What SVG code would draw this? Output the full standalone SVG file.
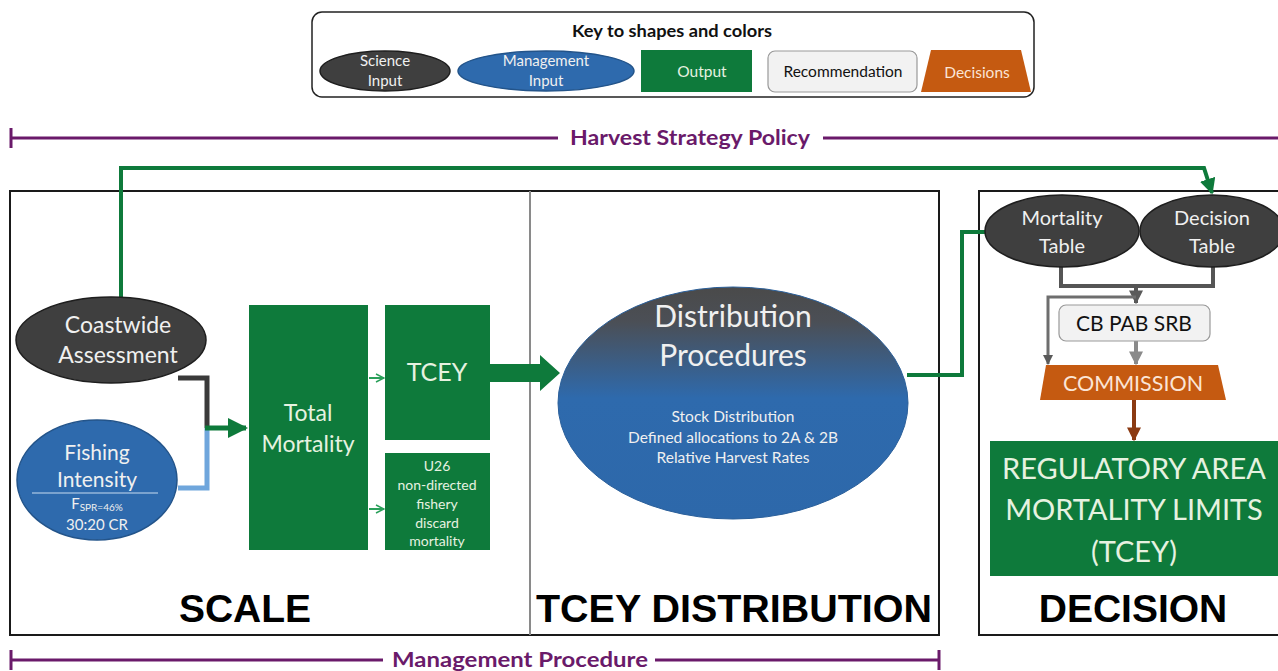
<svg xmlns="http://www.w3.org/2000/svg" width="1278" height="671" viewBox="0 0 1278 671">
  <style>
    .t { font-family: Lato, "Open Sans", "Liberation Sans", sans-serif; text-anchor: middle; }
    .light { fill: #f0f0f0; }
    .pale { fill: #e6f2e0; }
    .sci { fill: #3f3f3f; stroke: #1e1e1e; stroke-width: 1.5; }
    .mgmt { fill: #2e6aad; stroke: #23548a; stroke-width: 1.5; }
    .out { fill: #0e7a3b; }
    .purple { stroke: #6a1a6a; stroke-width: 3; fill: none; }
    .ptext { fill: #6a1a6a; font-weight: bold; font-size: 21px; }
    .sect { font-family: "Liberation Sans", Arial, sans-serif; font-weight: bold; font-size: 39px; text-anchor: middle; fill: #000; }
    .frame { fill: none; stroke: #1a1a1a; stroke-width: 2; }
    .gline { fill: none; stroke: #0e7a3b; stroke-width: 4; }
  </style>
  <defs>
    <linearGradient id="distGrad" x1="0" y1="0" x2="0" y2="1">
      <stop offset="0" stop-color="#4a4a4a"/>
      <stop offset="0.15" stop-color="#4b4f56"/>
      <stop offset="0.48" stop-color="#2e6aad"/>
      <stop offset="1" stop-color="#2d68aa"/>
    </linearGradient>
    <marker id="gArrow" viewBox="0 0 10 10" refX="9" refY="5" markerWidth="4" markerHeight="4" orient="auto" markerUnits="strokeWidth">
      <path d="M0,0 L10,5 L0,10 z" fill="#0e7a3b"/>
    </marker>
    <marker id="gOpen" viewBox="0 0 10 10" refX="9" refY="5" markerWidth="5" markerHeight="5" orient="auto" markerUnits="strokeWidth">
      <path d="M1,1 L9,5 L1,9" fill="none" stroke="#2aa05a" stroke-width="1.5"/>
    </marker>
    <marker id="dArrow" viewBox="0 0 10 10" refX="9" refY="5" markerWidth="3.5" markerHeight="3.5" orient="auto" markerUnits="strokeWidth">
      <path d="M0,0 L10,5 L0,10 z" fill="#5a5a5a"/>
    </marker>
    <marker id="lArrow" viewBox="0 0 10 10" refX="9" refY="5" markerWidth="3.5" markerHeight="3.5" orient="auto" markerUnits="strokeWidth">
      <path d="M0,0 L10,5 L0,10 z" fill="#8a8a8a"/>
    </marker>
    <marker id="bArrow" viewBox="0 0 10 10" refX="9" refY="5" markerWidth="3.5" markerHeight="3.5" orient="auto" markerUnits="strokeWidth">
      <path d="M0,0 L10,5 L0,10 z" fill="#8b3a12"/>
    </marker>
  </defs>

  <rect width="1278" height="671" fill="#ffffff"/>

  <!-- Legend -->
  <g id="legend">
    <rect x="312" y="12" width="722" height="85" rx="10" fill="#fff" stroke="#222" stroke-width="1.5"/>
    <text class="t" x="672" y="37" font-size="17.5" font-weight="bold" fill="#111" textLength="200" lengthAdjust="spacingAndGlyphs">Key to shapes and colors</text>
    <ellipse class="sci" cx="385" cy="71" rx="65" ry="20"/>
    <text class="t light" x="385" y="66" font-size="15">Science</text>
    <text class="t light" x="385" y="86" font-size="15">Input</text>
    <ellipse class="mgmt" cx="546" cy="71" rx="88" ry="20"/>
    <text class="t light" x="546" y="66" font-size="15">Management</text>
    <text class="t light" x="546" y="86" font-size="15">Input</text>
    <rect class="out" x="641" y="50" width="111" height="42"/>
    <text class="t pale" x="702" y="77" font-size="15.5">Output</text>
    <rect x="768" y="51" width="149" height="41" rx="7" fill="#f2f2f2" stroke="#999" stroke-width="1.2"/>
    <text class="t" x="843" y="77" font-size="15.5" fill="#111">Recommendation</text>
    <polygon points="931,50 1021,50 1031,92 921,92" fill="#c55a11"/>
    <text class="t" x="977" y="78" font-size="15.5" fill="#fbe5d6">Decisions</text>
  </g>

  <!-- Policy span bars -->
  <g id="harvest-strategy-policy">
    <line class="purple" x1="11" y1="138" x2="558" y2="138"/>
    <line class="purple" x1="11" y1="128" x2="11" y2="148"/>
    <line class="purple" x1="823" y1="138" x2="1278" y2="138"/>
    <text class="t ptext" x="690" y="145" textLength="240" lengthAdjust="spacingAndGlyphs">Harvest Strategy Policy</text>
  </g>
  <g id="management-procedure">
    <line class="purple" x1="11" y1="660" x2="383" y2="660"/>
    <line class="purple" x1="655" y1="660" x2="939" y2="660"/>
    <line class="purple" x1="11" y1="650" x2="11" y2="670"/>
    <line class="purple" x1="939" y1="650" x2="939" y2="670"/>
    <text class="t ptext" x="520" y="667" textLength="256" lengthAdjust="spacingAndGlyphs">Management Procedure</text>
  </g>

  <!-- Section frames -->
  <g id="frames">
    <rect class="frame" x="10" y="191" width="929" height="444"/>
    <line x1="530" y1="191" x2="530" y2="635" stroke="#8a8a8a" stroke-width="2"/>
    <rect class="frame" x="979" y="191" width="310" height="444"/>
    <text class="sect" x="245" y="622">SCALE</text>
    <text class="sect" x="734" y="622" textLength="396" lengthAdjust="spacingAndGlyphs">TCEY DISTRIBUTION</text>
    <text class="sect" x="1133" y="622">DECISION</text>
  </g>

  <!-- Connectors -->
  <g id="connectors">
    <polyline class="gline" points="121,298 121,168 1204,168 1212,193" marker-end="url(#gArrow)"/>
    <polyline fill="none" stroke="#3a3a3a" stroke-width="5" points="178,378 207,378 207,428"/>
    <polyline fill="none" stroke="#6fa6dc" stroke-width="5" points="178,488 207,488 207,428"/>
    <line stroke="#0e7a3b" stroke-width="5" x1="205" y1="428" x2="246" y2="428" marker-end="url(#gArrow)"/>
    <line stroke="#2aa05a" stroke-width="2" x1="369" y1="378" x2="384" y2="378" marker-end="url(#gOpen)"/>
    <line stroke="#2aa05a" stroke-width="2" x1="369" y1="509" x2="384" y2="509" marker-end="url(#gOpen)"/>
    <polygon points="490,364 540,364 540,355 560,373 540,391 540,382 490,382" fill="#0e7a3b"/>
    <polyline class="gline" stroke-width="5" points="907,375 962,375 962,232 988,232"/>
    <polyline fill="none" stroke="#555" stroke-width="4" points="1061,266 1061,286 1213,286 1213,266"/>
    <line stroke="#555" stroke-width="4" x1="1136" y1="286" x2="1136" y2="303" marker-end="url(#dArrow)"/>
    <polyline fill="none" stroke="#6e6e6e" stroke-width="3" points="1136,297 1048,297 1048,364" marker-end="url(#dArrow)"/>
    <line stroke="#8a8a8a" stroke-width="4" x1="1136" y1="341" x2="1136" y2="364" marker-end="url(#lArrow)"/>
    <line stroke="#8b3a12" stroke-width="4" x1="1134" y1="400" x2="1134" y2="440" marker-end="url(#bArrow)"/>
  </g>

  <!-- Nodes -->
  <g id="coastwide-assessment">
    <ellipse class="sci" cx="111" cy="340" rx="95" ry="43"/>
    <text class="t light" x="118" y="333" font-size="23">Coastwide</text>
    <text class="t light" x="118" y="363" font-size="23">Assessment</text>
  </g>
  <g id="fishing-intensity">
    <ellipse class="mgmt" cx="97" cy="480" rx="80" ry="60"/>
    <text class="t light" x="97" y="460" font-size="21">Fishing</text>
    <text class="t light" x="97" y="487" font-size="21">Intensity</text>
    <line x1="32" y1="493" x2="158" y2="493" stroke="#c8dcf0" stroke-width="1"/>
    <text class="t light" x="97" y="509" font-size="15">F<tspan font-size="10" dy="2">SPR=46%</tspan></text>
    <text class="t light" x="97" y="530" font-size="15">30:20 CR</text>
  </g>
  <g id="total-mortality">
    <rect class="out" x="249" y="305" width="119" height="245"/>
    <text class="t pale" x="308" y="421" font-size="23">Total</text>
    <text class="t pale" x="308" y="452" font-size="23">Mortality</text>
  </g>
  <g id="tcey">
    <rect class="out" x="385" y="305" width="105" height="135"/>
    <text class="t pale" x="437" y="381" font-size="25">TCEY</text>
  </g>
  <g id="u26-discard">
    <rect class="out" x="385" y="453" width="105" height="97"/>
    <text class="t pale" x="437" y="471" font-size="14">U26</text>
    <text class="t pale" x="437" y="490" font-size="14">non-directed</text>
    <text class="t pale" x="437" y="509" font-size="14">fishery</text>
    <text class="t pale" x="437" y="528" font-size="14">discard</text>
    <text class="t pale" x="437" y="546" font-size="14">mortality</text>
  </g>
  <g id="distribution-procedures">
    <ellipse cx="733" cy="403" rx="175" ry="116" fill="url(#distGrad)" stroke="#2a5f9a" stroke-width="1"/>
    <text class="t light" x="733" y="327" font-size="30">Distribution</text>
    <text class="t light" x="733" y="366" font-size="30">Procedures</text>
    <text class="t light" x="733" y="422" font-size="15.5">Stock Distribution</text>
    <text class="t light" x="733" y="443" font-size="15.5">Defined allocations to 2A &amp; 2B</text>
    <text class="t light" x="733" y="463" font-size="15.5">Relative Harvest Rates</text>
  </g>
  <g id="mortality-table">
    <ellipse class="sci" cx="1062" cy="231" rx="77" ry="36"/>
    <text class="t light" x="1062" y="225" font-size="20">Mortality</text>
    <text class="t light" x="1062" y="253" font-size="20">Table</text>
  </g>
  <g id="decision-table">
    <ellipse class="sci" cx="1212" cy="231" rx="72" ry="36"/>
    <text class="t light" x="1212" y="225" font-size="20">Decision</text>
    <text class="t light" x="1212" y="253" font-size="20">Table</text>
  </g>
  <g id="cb-pab-srb">
    <rect x="1059" y="305" width="151" height="36" rx="7" fill="#f2f2f2" stroke="#999" stroke-width="1.2"/>
    <text class="t" x="1134" y="331" font-size="21" fill="#111">CB PAB SRB</text>
  </g>
  <g id="commission">
    <polygon points="1046,365 1218,365 1226,400 1040,400" fill="#c55a11"/>
    <text class="t" x="1133" y="391" font-size="21.5" fill="#fbe5d6">COMMISSION</text>
  </g>
  <g id="regulatory-limits">
    <rect class="out" x="990" y="441" width="288" height="135"/>
    <text class="t pale" x="1134" y="479" font-size="29">REGULATORY AREA</text>
    <text class="t pale" x="1134" y="520" font-size="29">MORTALITY LIMITS</text>
    <text class="t pale" x="1134" y="562" font-size="29">(TCEY)</text>
  </g>
</svg>
